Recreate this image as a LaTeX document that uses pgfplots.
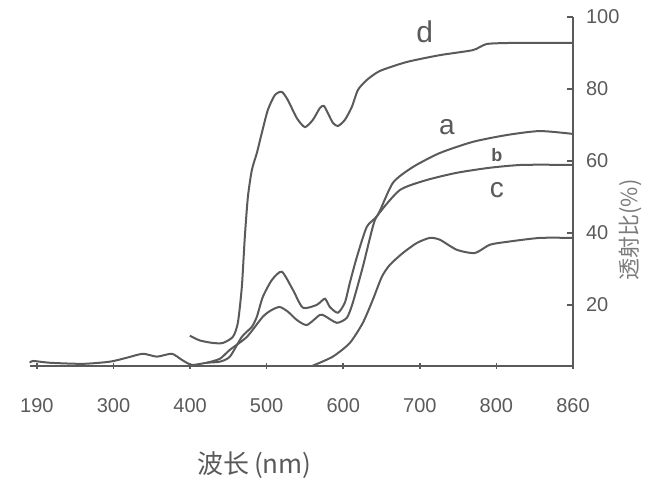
\documentclass[border=0pt]{standalone}
\usepackage{pgfplots}
\pgfplotsset{compat=1.18}
\usepackage{fontspec}
\setmainfont{Liberation Sans}
\newfontfamily\cjk{Noto Sans CJK SC}
\definecolor{ink}{HTML}{5A5A5A}
\pgfplotsset{curve/.style={ink, line width=1pt, smooth, tension=0.4, no markers}}
\begin{document}
\begin{tikzpicture}
\useasboundingbox (-15pt,-62pt) rectangle (314pt,183pt);
\begin{axis}[
  scale only axis, width=271.5pt, height=174.5pt,
  xmin=-0.09, xmax=7, ymin=3, ymax=100,
  axis x line*=bottom, axis y line*=right,
  axis line style={ink, line width=0.9pt},
  xtick={0,1,2,3,4,5,6,7},
  xticklabels={190,300,400,500,600,700,800,860},
  ytick={20,40,60,80,100},
  tick style={ink, line width=0.8pt},
  major tick length=3pt,
  xtick align=center,
  ytick align=inside,
  xticklabel style={yshift=-11pt, text=ink, font=\fontsize{10}{12}\selectfont},
  yticklabel style={xshift=3pt, text=ink, font=\fontsize{10}{12}\selectfont},
  /pgf/number format/assume math mode=true,
  xlabel={\cjk 波长\,(nm)},
  xlabel style={at={(rel axis cs:0.414,0)}, anchor=center, yshift=-49.5pt, text=ink, font=\fontsize{13}{15}\selectfont},
  ylabel={\cjk 透射比(\%)},
  ylabel style={at={(rel axis cs:1,0.39)}, anchor=center, yshift=-28.5pt, text=ink!80, font=\fontsize{11}{13}\selectfont},
  clip=false,
]
% curve d
\addplot[curve] coordinates {
(1.997,11.4)(2.128,10.1)(2.298,9.4)(2.428,9.4)(2.559,11.1)(2.624,15.0)(2.676,25.0)
(2.715,38.9)(2.755,50.0)(2.807,57.5)(2.872,62.2)(2.937,67.8)(3.016,74.2)(3.107,78.3)
(3.198,79.2)(3.277,76.9)(3.394,71.9)(3.499,69.4)(3.603,71.4)(3.695,74.7)(3.747,75.3)
(3.799,73.3)(3.864,70.6)(3.930,69.7)(4.021,71.4)(4.112,75.0)(4.191,79.7)(4.308,82.5)
(4.478,85.0)(4.830,87.5)(5.261,89.4)(5.692,90.8)(5.875,92.5)(6.214,92.8)(6.567,92.8)(7.0,92.8)};
% curve a (with common baseline)
\addplot[curve] coordinates {
(-0.091,3.9)(-0.052,4.4)(0.170,3.9)(0.601,3.6)(0.953,4.2)(1.175,5.3)(1.384,6.4)
(1.567,5.6)(1.762,6.4)(1.893,4.7)(2.023,3.3)(2.219,3.9)(2.389,4.2)(2.520,5.6)
(2.676,11.1)(2.807,13.9)(2.872,16.7)(2.950,22.2)(3.068,26.9)(3.198,29.2)(3.342,24.2)
(3.473,19.2)(3.655,20.0)(3.760,21.7)(3.825,19.4)(3.930,17.8)(4.021,20.6)(4.086,26.1)
(4.178,33.3)(4.308,41.7)(4.452,45.0)(4.648,53.9)(4.909,58.3)(5.261,62.2)(5.692,65.3)
(6.136,67.2)(6.567,68.3)(7.0,67.5)};
% curve b
\addplot[curve] coordinates {
(2.219,3.9)(2.389,5.0)(2.520,7.5)(2.742,11.1)(2.950,16.7)(3.068,18.6)(3.172,19.4)
(3.277,18.1)(3.394,15.8)(3.525,14.4)(3.695,17.2)(3.760,16.9)(3.916,15.0)(4.047,16.4)
(4.125,20.6)(4.256,30.6)(4.386,41.7)(4.452,45.0)(4.739,51.9)(5.091,54.7)(5.483,56.7)
(5.914,58.1)(6.345,58.9)(7.0,58.9)};
% curve c
\addplot[curve] coordinates {
(3.603,3.1)(3.864,5.6)(4.086,9.4)(4.256,15.0)(4.386,21.4)(4.504,27.8)(4.608,31.1)
(4.778,34.4)(4.961,37.2)(5.131,38.6)(5.261,38.1)(5.483,35.3)(5.718,34.4)(5.914,36.7)
(6.136,37.5)(6.567,38.6)(7.0,38.6)};
\node[text=ink, font=\fontsize{15}{17}\selectfont] at (axis cs:5.065,95.8) {d};
\node[text=ink, font=\fontsize{14}{16}\selectfont] at (axis cs:5.352,69.4) {a};
\node[text=ink, font=\fontsize{9}{11}\selectfont\bfseries] at (axis cs:6.005,61.7) {b};
\node[text=ink, font=\fontsize{14}{16}\selectfont] at (axis cs:6.005,51.9) {c};
\end{axis}
\end{tikzpicture}
\end{document}
